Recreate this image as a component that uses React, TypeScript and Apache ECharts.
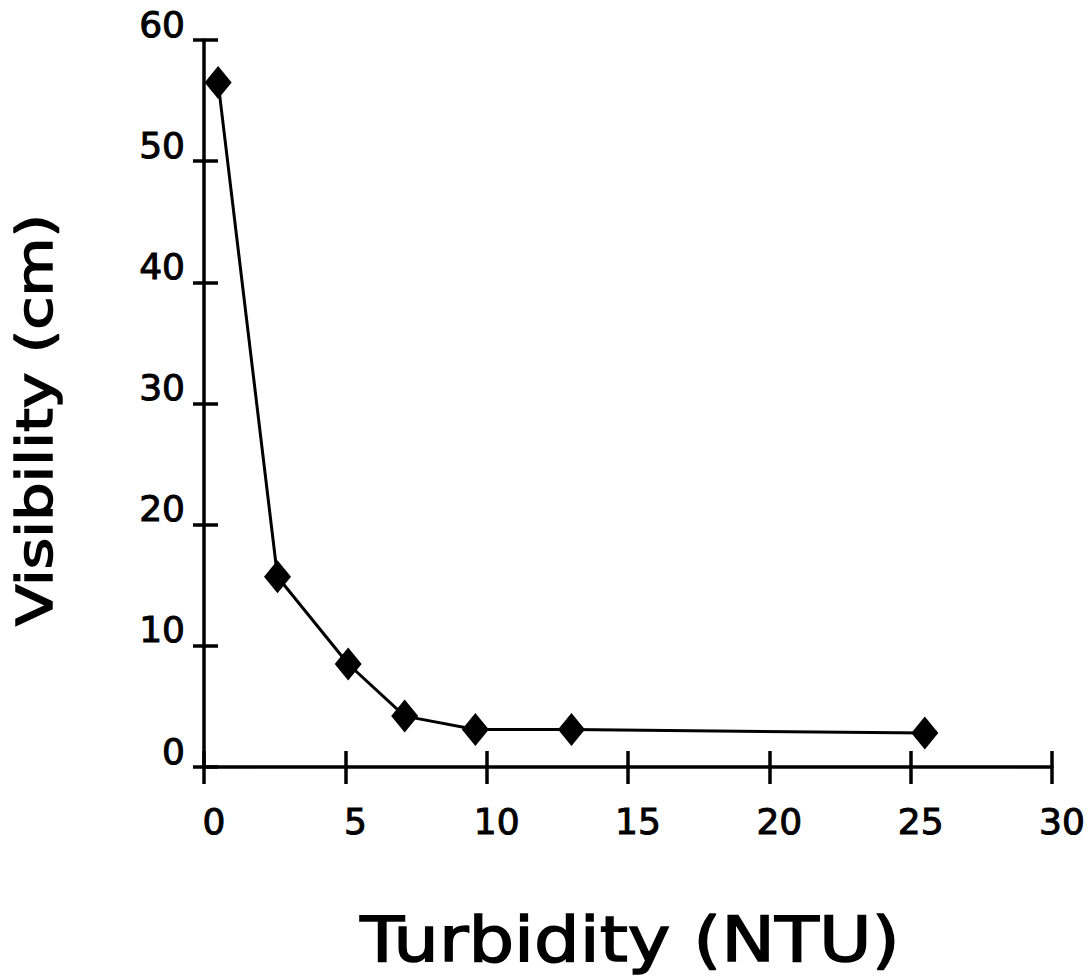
import React, { useEffect, useRef } from "react";
import * as echarts from "echarts";

const turbidity = [0.5, 2.6, 5.1, 7.1, 9.6, 13.0, 25.5];
const visibility = [56.5, 15.7, 8.5, 4.2, 3.1, 3.1, 2.8];
const xTicks = [0, 5, 10, 15, 20, 25, 30];
const yTicks = [0, 10, 20, 30, 40, 50, 60];
const xTitle = "Turbidity (NTU)";
const yTitle = "Visibility (cm)";

const FONT = "'DejaVu Sans', 'Liberation Sans', Arial, sans-serif";

export default function App() {
  const ref = useRef<HTMLDivElement>(null);
  useEffect(() => {
    document.body.style.margin = "0";
    const chart = echarts.init(ref.current!, null, { renderer: "svg" });
    const lineStyle = { color: "#000", width: 3.5 };
    const grid = { left: 204, right: 39, top: 40, bottom: 210 };
    const labelStyle = {
      fontFamily: FONT,
      fontSize: 36,
      fontWeight: "normal",
      color: "#000",
      textBorderColor: "#000",
      textBorderWidth: 1,
    };
    chart.setOption({
      animation: false,
      backgroundColor: "#fff",
      grid,
      xAxis: [
        {
          type: "value",
          min: 0,
          max: 30,
          interval: 5,
          axisLine: { show: true, onZero: false, lineStyle },
          axisTick: { show: true, inside: false, length: 17, lineStyle },
          splitLine: { show: false },
          axisLabel: {
            show: true,
            margin: 36,
            ...labelStyle,
            padding: [0, 0, 0, 20],
            formatter: (v: number) => (xTicks.includes(v) ? String(v) : ""),
          },
        },
        {
          type: "value",
          position: "bottom",
          min: 0,
          max: 30,
          interval: 5,
          axisLine: { show: false, onZero: false },
          axisTick: { show: true, inside: true, length: 16, lineStyle },
          splitLine: { show: false },
          axisLabel: { show: false },
        },
      ],
      yAxis: [
        {
          type: "value",
          min: 0,
          max: 60,
          interval: 10,
          axisLine: { show: true, onZero: false, lineStyle },
          axisTick: { show: true, inside: false, length: 11, lineStyle },
          splitLine: { show: false },
          axisLabel: {
            show: true,
            margin: 19,
            ...labelStyle,
            verticalAlign: "bottom",
            lineHeight: 32,
            formatter: (v: number) => (yTicks.includes(v) ? String(v) : ""),
          },
        },
        {
          type: "value",
          position: "left",
          min: 0,
          max: 60,
          interval: 10,
          axisLine: { show: false, onZero: false },
          axisTick: { show: true, inside: true, length: 14, lineStyle },
          splitLine: { show: false },
          axisLabel: { show: false },
        },
      ],
      series: [
        {
          type: "line",
          data: turbidity.map((x, i) => [x, visibility[i]]),
          symbol: "diamond",
          symbolSize: [27, 33],
          itemStyle: { color: "#000" },
          lineStyle: { color: "#000", width: 3 },
          z: 5,
        },
      ],
      graphic: [
        {
          type: "text",
          x: 630,
          y: 940,
          scaleX: 1.16,
          style: {
            text: xTitle,
            fontFamily: FONT,
            fontSize: 62,
            fontWeight: "normal",
            fill: "#000",
            stroke: "#000",
            lineWidth: 1.5,
            align: "center",
            verticalAlign: "middle",
          },
        },
        {
          type: "text",
          x: 34,
          y: 420,
          rotation: Math.PI / 2,
          scaleX: 1.21,
          style: {
            text: yTitle,
            fontFamily: FONT,
            fontSize: 50,
            fontWeight: "normal",
            fill: "#000",
            stroke: "#000",
            lineWidth: 1.5,
            align: "center",
            verticalAlign: "middle",
          },
        },
      ],
    });
    return () => chart.dispose();
  }, []);
  return <div ref={ref} style={{ width: 1091, height: 977 }} />;
}
